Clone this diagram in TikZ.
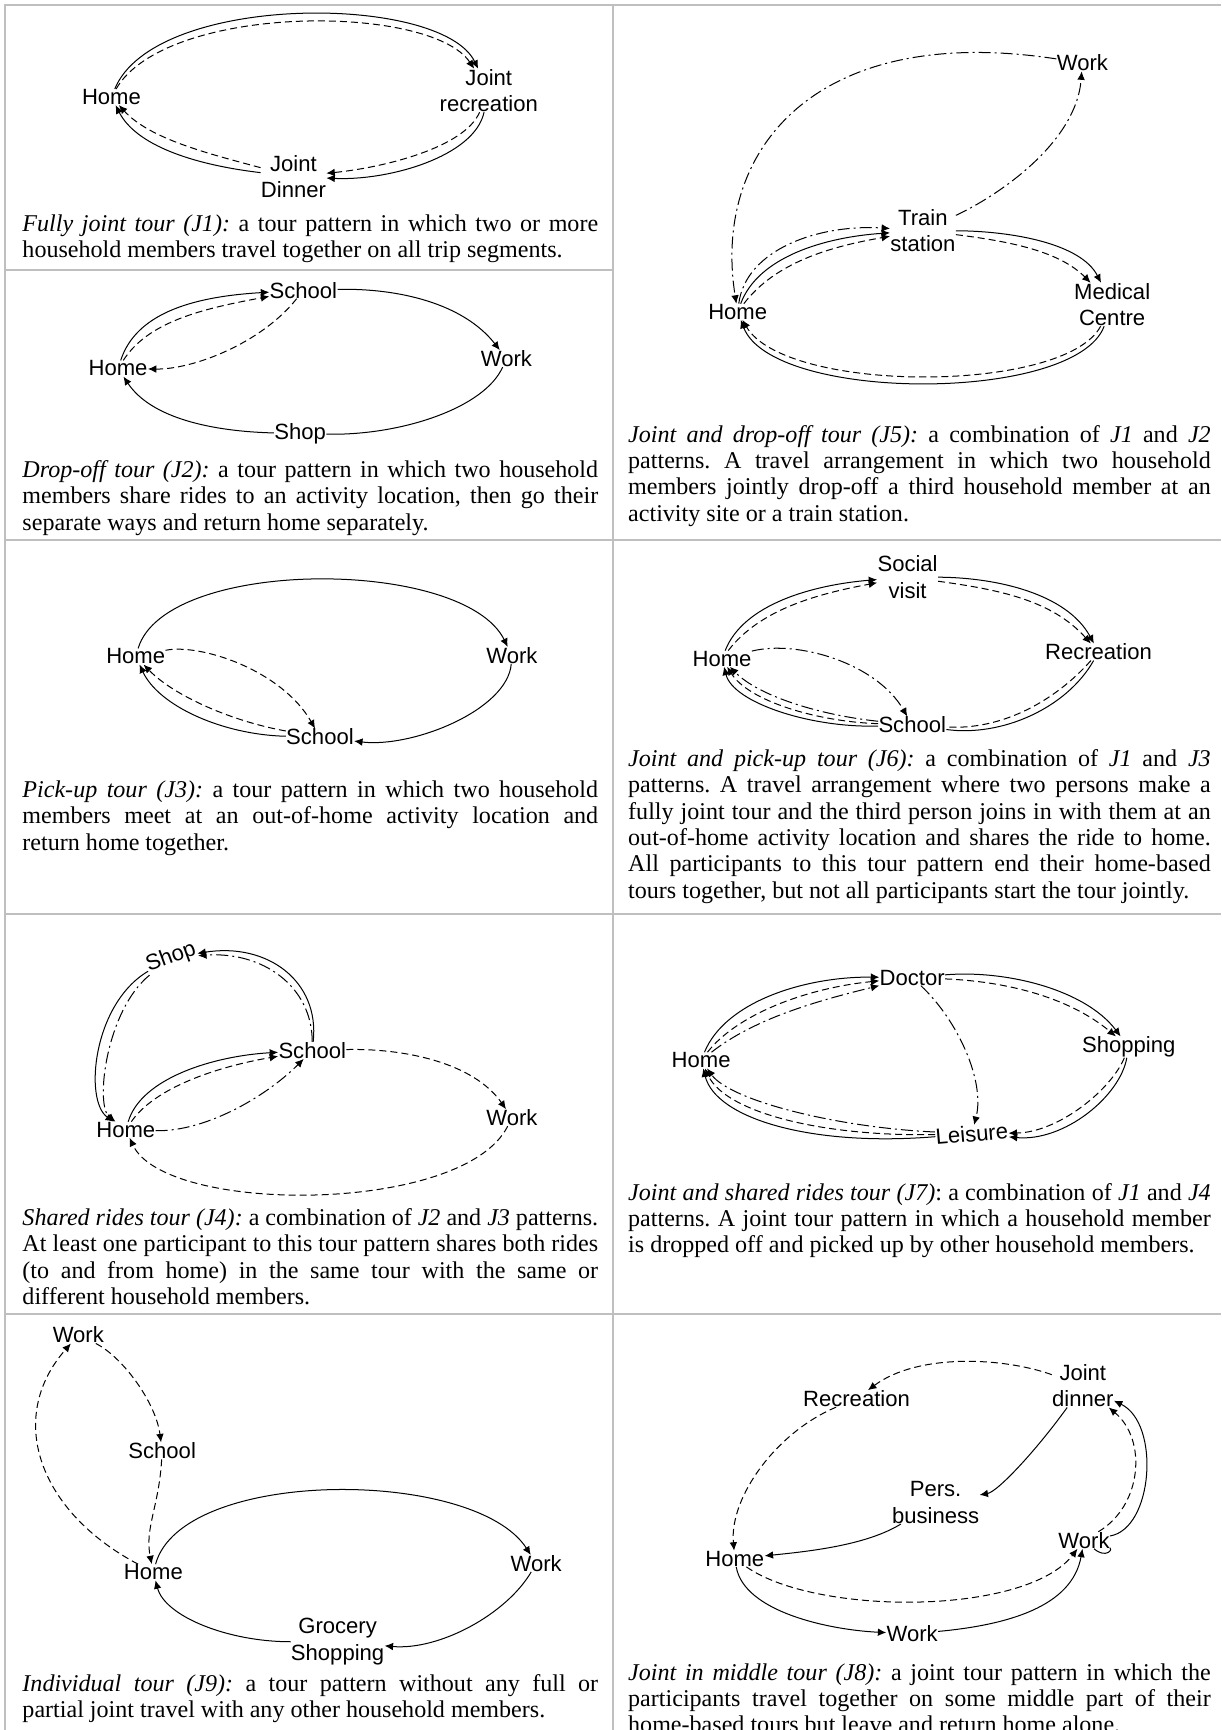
\documentclass[tikz,border=0pt]{standalone}
\usepackage{fontspec}
\setmainfont{Liberation Serif}
\newfontfamily\lsans{Liberation Sans}
\usetikzlibrary{arrows.meta}
\frenchspacing
\newlength{\cwl}\setlength{\cwl}{287pt}
\newlength{\cwr}\setlength{\cwr}{290.4pt}
\newcommand{\JLn}[2]{\makebox[#1][s]{#2}}
\tikzset{
  lbl/.style={font=\lsans\fontsize{11}{13.2}\selectfont, inner sep=0pt, align=center},
  captext/.style={font=\fontsize{12}{13.1}\selectfont, inner sep=0pt, anchor=north west, align=left},
  arrowhd/.style={-{Latex[length=4.2pt,width=3.8pt]}},
  sol/.style={line width=0.5pt, arrowhd},
  solnh/.style={line width=0.5pt},
  dsh/.style={line width=0.5pt, dash pattern=on 3.5pt off 2pt, arrowhd},
  dshnh/.style={line width=0.5pt, dash pattern=on 3.5pt off 2pt},
  dd/.style={line width=0.5pt, dash pattern=on 6pt off 2pt on 1pt off 2pt, arrowhd},
  gridline/.style={line width=1pt, draw=gray!50}
}
\begin{document}
\begin{tikzpicture}[x=0.55pt,y=0.55pt]
\useasboundingbox (0,0) rectangle (1107,-1568);
% table grid
\draw[gridline] (4.5,-1568) -- (4.5,-4.5) -- (1107,-4.5);
\draw[gridline] (556,-4.5) -- (556,-1568);
\draw[gridline] (4.5,-245) -- (556,-245);
\draw[gridline] (4.5,-489) -- (1107,-489);
\draw[gridline] (4.5,-828) -- (1107,-828);
\draw[gridline] (4.5,-1191) -- (1107,-1191);

% ===== J1 =====
\node[lbl] (h1) at (101,-88) {Home};
\node[lbl] (r1) at (443,-82) {Joint\\recreation};
\node[lbl] (d1) at (266,-160) {Joint\\Dinner};
\draw[sol] ([shift={(-5,20)}]h1) .. controls +(44,75) and +(-43,62) .. ([shift={(0,26)}]r1);
\draw[dsh] ([shift={(16,29)}]h1) .. controls +(33,56) and +(-40,53) .. ([shift={(-13,26)}]r1);
\draw[dsh] ([shift={(-10,-24)}]r1) .. controls +(-12,-28) and +(45,-4) .. ([shift={(36,12)}]d1);
\draw[sol] ([shift={(1,-30)}]r1) .. controls +(-14,-30) and +(50,-6) .. ([shift={(36,2)}]d1);
\draw[dsh] ([shift={(-33,13)}]d1) .. controls +(-45,8) and +(22,-22) .. ([shift={(13,-16)}]h1);
\draw[sol] ([shift={(-33,3)}]d1) .. controls +(-60,8) and +(25,-28) .. ([shift={(-3,-15)}]h1);
\node[captext] (c1) at (20,-192.8) {\JLn{\cwl}{\strut\textit{Fully joint tour (J1):} a tour pattern in which two or more}\\
household members travel together on all trip segments.};

% ===== J2 =====
\node[lbl] (h2) at (107,-334) {Home};
\node[lbl] (s2) at (275,-263) {School};
\node[lbl] (w2) at (459,-325) {Work};
\node[lbl] (p2) at (272,-393) {Shop};
\draw[sol] ([shift={(-4,19)}]h2) .. controls +(20,30) and +(-70,-10) .. ([shift={(-33,4)}]s2);
\draw[dsh] ([shift={(7,17)}]h2) .. controls +(20,25) and +(-60,-10) .. ([shift={(-33,-7)}]s2);
\draw[dsh] ([shift={(-23,-23)}]s2) .. controls +(-15,-25) and +(36,6.5) .. ([shift={(32,-7.5)}]h2);
\draw[sol] ([shift={(36,5)}]s2) .. controls +(50,-3) and +(-35,30) .. ([shift={(-4,20)}]w2);
\draw[solnh] ([shift={(-5,-15)}]w2) .. controls +(-15,-30) and +(55,-2) .. ([shift={(36,0)}]p2);
\draw[sol] ([shift={(-30,0)}]p2) .. controls +(-50,2) and +(25,-25) .. ([shift={(5,-20)}]h2);
\node[captext] (c2) at (20,-415.8) {\JLn{\cwl}{\strut\textit{Drop-off tour (J2):} a tour pattern in which two household}\\
\JLn{\cwl}{members share rides to an activity location, then go their}\\
separate ways and return home separately.};

% ===== J3 =====
\node[lbl] (h3) at (123,-595) {Home};
\node[lbl] (w3) at (464,-594) {Work};
\node[lbl] (s3) at (290,-668) {School};
\draw[sol] ([shift={(-1,18)}]h3) .. controls +(28,72) and +(-46,65) .. ([shift={(2,24)}]w3);
\draw[sol] ([shift={(11,-19.5)}]w3) .. controls +(-15,-30) and +(50,-8) .. ([shift={(34,-2)}]s3);
\draw[sol] ([shift={(-38,-1)}]s3) .. controls +(-50,3) and +(25,-25) .. ([shift={(-4,-20)}]h3);
\draw[dsh] ([shift={(-34,9)}]s3) .. controls +(-45,5) and +(25,-22) .. ([shift={(10,-14)}]h3);
\draw[dsh] ([shift={(33,4)}]h3) .. controls +(25,8) and +(-15,40) .. ([shift={(-20,21)}]s3);
\node[captext] (c3) at (20,-705.8) {\JLn{\cwl}{\strut\textit{Pick-up tour (J3):} a tour pattern in which two household}\\
\JLn{\cwl}{members meet at an out-of-home activity location and}\\
return home together.};

% ===== J4 =====
\node[lbl, rotate=20] (p4) at (155,-868) {Shop};
\node[lbl] (s4) at (283,-952) {School};
\node[lbl] (h4) at (114,-1024) {Home};
\node[lbl] (w4) at (464,-1013) {Work};
\draw[sol] ([shift={(7,18)}]s4) .. controls +(0,45) and +(58,0) .. ([shift={(29,14)}]p4);
\draw[dd] ([shift={(0,18)}]s4) .. controls +(0,40) and +(55,0) .. ([shift={(28,6)}]p4);
\draw[sol] ([shift={(-26,-5)}]p4) .. controls +(-45,-37) and +(-6,45) .. ([shift={(-32,-19)}]h4);
\draw[dd] ([shift={(-17,-13)}]p4) .. controls +(-42,-35) and +(-5,42) .. ([shift={(-23,-20)}]h4);
\draw[sol] ([shift={(-4,22)}]h4) .. controls +(18,25) and +(-55,-8) .. ([shift={(-34,3)}]s4);
\draw[dsh] ([shift={(8,18)}]h4) .. controls +(18,20) and +(-50,-8) .. ([shift={(-37,-7)}]s4);
\draw[dd] ([shift={(37,-5)}]h4) .. controls +(34,3) and +(-21,-22) .. ([shift={(-22,-21)}]s4);
\draw[dsh] ([shift={(33,4)}]s4) .. controls +(50,-2) and +(-30,30) .. ([shift={(-5,20)}]w4);
\draw[dsh] ([shift={(-4,-16)}]w4) .. controls +(-40,-72) and +(27,-58) .. ([shift={(9,-19)}]h4);
\node[captext] (c4) at (20,-1093.8) {\JLn{\cwl}{\strut\textit{Shared rides tour (J4):} a combination of \textit{J2} and \textit{J3} patterns.}\\
\JLn{\cwl}{At least one participant to this tour pattern shares both rides}\\
\JLn{\cwl}{(to and from home) in the same tour with the same or}\\
different household members.};

% ===== J9 =====
\node[lbl] (wt9) at (71,-1210) {Work};
\node[lbl] (sc9) at (147,-1315) {School};
\node[lbl] (h9) at (139,-1425) {Home};
\node[lbl] (wr9) at (486,-1417) {Work};
\node[lbl] (g9) at (306,-1488) {Grocery\\Shopping};
\draw[dsh] ([shift={(24,-9)}]wt9) .. controls +(15,-10) and +(-2,25) .. ([shift={(-4,20)}]sc9);
\draw[dsh] ([shift={(-3,-26)}]sc9) .. controls +(0,-25) and +(5,25) .. ([shift={(-13,15)}]h9);
\draw[dsh] ([shift={(-36,11)}]h9) .. controls +(-68,44) and +(-39.4,-58) .. ([shift={(-26.6,-17)}]wt9);
\draw[sol] ([shift={(-5.6,15)}]h9) .. controls +(31.6,80) and +(-52,64.6) .. ([shift={(-4,22.4)}]wr9);
\draw[sol] ([shift={(-7,-21)}]wr9) .. controls +(-20,-25) and +(40,-8) .. ([shift={(52.4,0)}]g9);
\draw[sol] ([shift={(-49.4,-2)}]g9) .. controls +(-50,2) and +(25,-25) .. ([shift={(-14.5,-15)}]h9);
\node[captext] (c9) at (20,-1515.8) {\JLn{\cwl}{\strut\textit{Individual tour (J9):} a tour pattern without any full or}\\
partial joint travel with any other household members.};

% ===== J5 =====
\node[lbl] (w5) at (981,-57) {Work};
\node[lbl] (t5) at (836.5,-209) {Train\\station};
\node[lbl] (h5) at (668.6,-282.6) {Home};
\node[lbl] (m5) at (1008,-276) {Medical\\Centre};
\draw[dd] ([shift={(17,23)}]t5) .. controls +(50,8) and +(-12,-50) .. ([shift={(6.5,-23)}]w5);
\draw[dd] ([shift={(-48,17)}]w5) .. controls +(-193,20) and +(3,122) .. ([shift={(-26.6,25.6)}]h5);
\draw[dd] ([shift={(-12.6,31.6)}]h5) .. controls +(20,25) and +(-60,-8) .. ([shift={(-34.5,14)}]t5);
\draw[sol] ([shift={(-1.6,24.6)}]h5) .. controls +(20,25) and +(-55,-8) .. ([shift={(-34.5,2)}]t5);
\draw[dsh] ([shift={(16,24.6)}]h5) .. controls +(18,20) and +(-50,-6) .. ([shift={(-34.5,-8.6)}]t5);
\draw[sol] ([shift={(31,2.6)}]t5) .. controls +(50,-3) and +(-30,30) .. ([shift={(1.8,25.2)}]m5);
\draw[dsh] ([shift={(31,-7)}]t5) .. controls +(50,-3) and +(-35,25) .. ([shift={(-12.4,22.8)}]m5);
\draw[sol] ([shift={(-7,-24.7)}]m5) .. controls +(-26,-64.6) and +(47.4,-66) .. ([shift={(-16,-16.6)}]h5);
\draw[dsh] ([shift={(-19.5,-24.7)}]m5) .. controls +(-23.5,-56.3) and +(43.4,-56.3) .. ([shift={(0,-18)}]h5);
\node[captext] (c5) at (569,-383.8) {\JLn{\cwr}{\strut\textit{Joint and drop-off tour (J5):} a combination of \textit{J1} and \textit{J2}}\\
\JLn{\cwr}{patterns. A travel arrangement in which two household}\\
\JLn{\cwr}{members jointly drop-off a third household member at an}\\
activity site or a train station.};

% ===== J6 =====
\node[lbl] (sv6) at (822.6,-523) {Social\\visit};
\node[lbl] (h6) at (654.4,-597) {Home};
\node[lbl] (r6) at (995.6,-591) {Recreation};
\node[lbl] (s6) at (826.8,-657) {School};
\draw[sol] ([shift={(-0.7,24.3)}]h6) .. controls +(20,25) and +(-55,-8) .. ([shift={(-31.4,0.8)}]sv6);
\draw[dsh] ([shift={(16,24.3)}]h6) .. controls +(18,20) and +(-50,-6) .. ([shift={(-33,-9.5)}]sv6);
\draw[sol] ([shift={(32,2.6)}]sv6) .. controls +(50,-3) and +(-30,28) .. ([shift={(1.8,24.4)}]r6);
\draw[dsh] ([shift={(32,-8.3)}]sv6) .. controls +(50,-3) and +(-30,25) .. ([shift={(-12.4,22.3)}]r6);
\draw[solnh] ([shift={(-9,-26)}]r6) .. controls +(-20,-25) and +(45,-6) .. ([shift={(36,-5)}]s6);
\draw[dshnh] ([shift={(-19.5,-22.5)}]r6) .. controls +(-20,-22) and +(45,-6) .. ([shift={(36,1)}]s6);
\draw[sol] ([shift={(-31.3,-5)}]s6) .. controls +(-60,2) and +(25,-25) .. ([shift={(-15,-15)}]h6);
\draw[dsh] ([shift={(-31.3,1)}]s6) .. controls +(-55,2) and +(25,-22) .. ([shift={(-0.7,-16.5)}]h6);
\draw[dd] ([shift={(-35,6)}]s6) .. controls +(-50,3) and +(22,-20) .. ([shift={(10.6,-13.4)}]h6);
\draw[dd] ([shift={(42.6,12.2)}]h6) .. controls +(25,5) and +(-15,40) .. ([shift={(-17.8,16.3)}]s6);
\node[captext] (c6) at (569,-677.8) {\JLn{\cwr}{\strut\textit{Joint and pick-up tour (J6):} a combination of \textit{J1} and \textit{J3}}\\
\JLn{\cwr}{patterns. A travel arrangement where two persons make a}\\
\JLn{\cwr}{fully joint tour and the third person joins in with them at an}\\
\JLn{\cwr}{out-of-home activity location and shares the ride to home.}\\
\JLn{\cwr}{All participants to this tour pattern end their home-based}\\
tours together, but not all participants start the tour jointly.};

% ===== J7 =====
\node[lbl] (d7) at (826.8,-886) {Doctor};
\node[lbl] (h7) at (635.5,-961) {Home};
\node[lbl] (sp7) at (1023,-949) {Shopping};
\node[lbl, rotate=5] (l7) at (880.8,-1027.5) {Leisure};
\draw[sol] ([shift={(0,25.7)}]h7) .. controls +(22,28) and +(-60,-10) .. ([shift={(-36.2,11)}]d7);
\draw[dsh] ([shift={(10.5,16.6)}]h7) .. controls +(22,25) and +(-60,-8) .. ([shift={(-36.2,-1.6)}]d7);
\draw[dd] ([shift={(28.5,18)}]h7) .. controls +(20,20) and +(-50,-7) .. ([shift={(-35.6,-14)}]d7);
\draw[sol] ([shift={(34.8,9)}]d7) .. controls +(50,-2) and +(-30,28) .. ([shift={(-9.6,24.3)}]sp7);
\draw[dsh] ([shift={(32.6,-0.4)}]d7) .. controls +(50,-3) and +(-30,25) .. ([shift={(-25.6,21.3)}]sp7);
\draw[dd] ([shift={(26.7,-24.2)}]d7) .. controls +(15,-15) and +(-2,35) .. ([shift={(14.2,12.1)}]l7);
\draw[sol] ([shift={(7.2,-19.5)}]sp7) .. controls +(-15,-25) and +(35,-8) .. ([shift={(49,0.6)}]l7);
\draw[dsh] ([shift={(-0.7,-16.5)}]sp7) .. controls +(-15,-22) and +(35,-8) .. ([shift={(43.7,9.1)}]l7);
\draw[sol] ([shift={(-45,-12)}]l7) .. controls +(-100,0) and +(30,-32) .. ([shift={(-16.7,-21)}]h7);
\draw[dsh] ([shift={(-43.4,-3)}]l7) .. controls +(-90,0) and +(30,-28) .. ([shift={(-7.8,-19.7)}]h7);
\draw[dd] ([shift={(-41.6,5.5)}]l7) .. controls +(-80,0) and +(28,-24) .. ([shift={(-1.5,-12.7)}]h7);
\node[captext] (c7) at (569,-1070.8) {\JLn{\cwr}{\strut\textit{Joint and shared rides tour (J7)}: a combination of \textit{J1} and \textit{J4}}\\
\JLn{\cwr}{patterns. A joint tour pattern in which a household member}\\
is dropped off and picked up by other household members.};

% ===== J8 =====
\node[lbl] (rc8) at (776.3,-1267.7) {Recreation};
\node[lbl] (jd8) at (981.4,-1256) {Joint\\dinner};
\node[lbl] (pb8) at (848,-1362) {Pers.\\business};
\node[lbl] (h8) at (666,-1412.8) {Home};
\node[lbl] (wr8) at (982.5,-1396) {Work};
\node[lbl] (wb8) at (826.8,-1480.8) {Work};
\draw[dsh] ([shift={(-33.7,17.6)}]jd8) .. controls +(-37.7,8) and +(50,25) .. ([shift={(6,16.6)}]rc8);
\draw[dsh] ([shift={(-42,-15)}]rc8) .. controls +(-30,-15) and +(2,35) .. ([shift={(-7,21.2)}]h8);
\draw[sol] ([shift={(-33.7,-32.9)}]jd8) .. controls +(-8,-25) and +(25,8) .. ([shift={(31.4,2)}]pb8);
\draw[sol] ([shift={(-32,-28)}]pb8) .. controls +(-30,-10) and +(35,0) .. ([shift={(35.6,7)}]h8);
\draw[dsh] ([shift={(28.5,-7)}]h8) .. controls +(45.5,-44.7) and +(-56.7,-54.6) .. ([shift={(4.2,-13.8)}]wr8);
\draw[sol] ([shift={(-11.6,-18.2)}]h8) .. controls +(20,-30) and +(-50,2) .. ([shift={(-25,1.5)}]wb8);
\draw[sol] ([shift={(26.7,3)}]wb8) .. controls +(60,5) and +(-30,-30) .. ([shift={(19.2,-30.2)}]wr8);
\draw[sol] ([shift={(20.2,-27.2)}]wr8) .. controls +(0,10) and +(-6,-3) .. ([shift={(32.7,-4.7)}]wr8) .. controls +(30,15) and +(33.2,-25.3) .. ([shift={(37.4,-8.7)}]jd8);
\draw[dsh] ([shift={(25.6,10.6)}]wr8) .. controls +(27,20.6) and +(28.3,-29.7) .. ([shift={(30.3,-19.3)}]jd8);
\node[captext] (c8) at (569,-1505.8) {\JLn{\cwr}{\strut\textit{Joint in middle tour (J8):} a joint tour pattern in which the}\\
\JLn{\cwr}{participants travel together on some middle part of their}\\
home-based tours but leave and return home alone.};
\end{tikzpicture}
\end{document}
